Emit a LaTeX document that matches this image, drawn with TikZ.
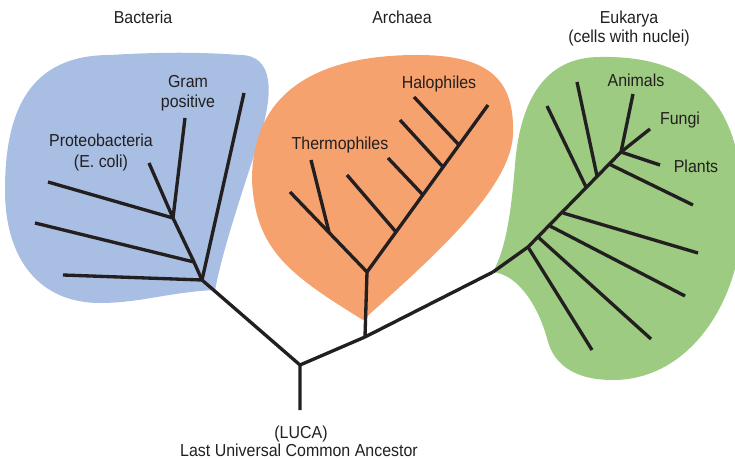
\documentclass[tikz,border=0pt]{standalone}
\usepackage{fontspec}
\setmainfont[FakeStretch=0.92]{Liberation Sans}
\usepackage{tikz}
\definecolor{bactcolor}{HTML}{A8BEE2}
\definecolor{archcolor}{HTML}{F6A26F}
\definecolor{eukcolor}{HTML}{9CCB81}
\definecolor{treecolor}{HTML}{231F20}

\begin{document}
\begin{tikzpicture}[
  x=0.75pt, y=-0.75pt,
  br/.style={line width=2.5pt, color=treecolor, line join=round},
  lb/.style={font=\fontsize{13}{15}\selectfont, color=treecolor, anchor=base, inner sep=0pt}
]
\useasboundingbox (0,0) rectangle (735,459);

% ===== BLOBS =====
\fill[bactcolor] (110,55) .. controls (160,52) and (200,52) .. (240,55)
  .. controls (275,55) and (272,95) .. (262,130)
  .. controls (245,185) and (225,240) .. (215,290)
  .. controls (170,292) and (140,303) .. (100,303)
  .. controls (40,303) and (5,260) .. (5,190)
  .. controls (5,110) and (30,55) .. (110,55) -- cycle;
\fill[archcolor] (363,320) .. controls (290,275) and (255,250) .. (252,180)
  .. controls (252,90) and (320,55) .. (417,55)
  .. controls (490,55) and (515,80) .. (513,135)
  .. controls (510,190) and (430,260) .. (363,320) -- cycle;
\fill[eukcolor] (493,272) .. controls (508,245) and (512,200) .. (515,165)
  .. controls (520,100) and (545,57) .. (600,57)
  .. controls (700,55) and (745,110) .. (742,215)
  .. controls (742,300) and (690,380) .. (613,380)
  .. controls (575,380) and (555,365) .. (548,342)
  .. controls (540,310) and (520,275) .. (493,272) -- cycle;

% ===== ROOT (LUCA) =====
\coordinate (luca) at (300,365);
\coordinate (lucaend) at (300,410);
\coordinate (b0) at (202,280);
\coordinate (a0) at (365,337);
\coordinate (e0) at (493,272);
\draw[br] (lucaend) -- (luca) -- (b0);
\draw[br] (luca) -- (a0) -- (e0);
\node[lb] (luca1) at (301,438) {(LUCA)};
\node[lb] (luca2) at (299,456) {Last Universal Common Ancestor};

% ===== BACTERIA =====
\coordinate (btop) at (244,93);
\coordinate (bj2) at (194,262);
\coordinate (bj3) at (173,218);
\coordinate (bt1) at (63,275);
\coordinate (bt2) at (35,223);
\coordinate (bt3) at (48,182);
\coordinate (btproteo) at (149,163);
\coordinate (btgram) at (185,118);
\draw[br] (b0) -- (btop);
\draw[br] (b0) -- (bt1);
\draw[br] (b0) -- (bj2) -- (bj3) -- (btgram);
\draw[br] (bj2) -- (bt2);
\draw[br] (bj3) -- (bt3);
\draw[br] (bj3) -- (btproteo);
\node[lb] (bacteria) at (143,24) {Bacteria};
\node[lb] (gram1) at (188,88) {Gram};
\node[lb] (gram2) at (188,108) {positive};
\node[lb] (proteo1) at (101,147) {Proteobacteria};
\node[lb] (proteo2) at (101,168) {(E. coli)};

% ===== ARCHAEA =====
\coordinate (aj) at (367,272);
\coordinate (al) at (290,192);
\coordinate (alj) at (329,232);
\coordinate (altip) at (311,160);
\coordinate (atop) at (488,105);
\draw[br] (a0) -- (aj) -- (al);
\draw[br] (alj) -- (altip);
\draw[br] (aj) -- (atop);
\foreach \jx/\jy/\tx/\ty in {396/232/347/175, 423/195/388/158, 443/167/400/120, 459/145/414/97}
  \draw[br] (\jx,\jy) -- (\tx,\ty);
\node[lb] (archaea) at (402,24) {Archaea};
\node[lb] (thermo) at (340,150) {Thermophiles};
\node[lb] (halo) at (439,89) {Halophiles};

% ===== EUKARYA =====
\coordinate (ej1) at (528,247);
\coordinate (etop) at (621,152);
\draw[br] (e0) -- (ej1) -- (etop);
\foreach \jx/\jy/\tx/\ty in {528/247/592/350, 538/237/651/339, 550/226/685/296, 563/213/698/253,
                             586/187/547/106, 597/176/577/82, 609/164/693/205}
  \draw[br] (\jx,\jy) -- (\tx,\ty);
\coordinate (animals) at (633,94);
\coordinate (fungi) at (650,129);
\coordinate (plants) at (660,165);
\draw[br] (etop) -- (animals);
\draw[br] (etop) -- (fungi);
\draw[br] (etop) -- (plants);
\node[lb] (eukarya1) at (629,24) {Eukarya};
\node[lb] (eukarya2) at (629,43) {(cells with nuclei)};
\node[lb] (animalstxt) at (636,87) {Animals};
\node[lb] (fungitxt) at (680,125) {Fungi};
\node[lb] (plantstxt) at (696,173) {Plants};

\end{tikzpicture}
\end{document}
